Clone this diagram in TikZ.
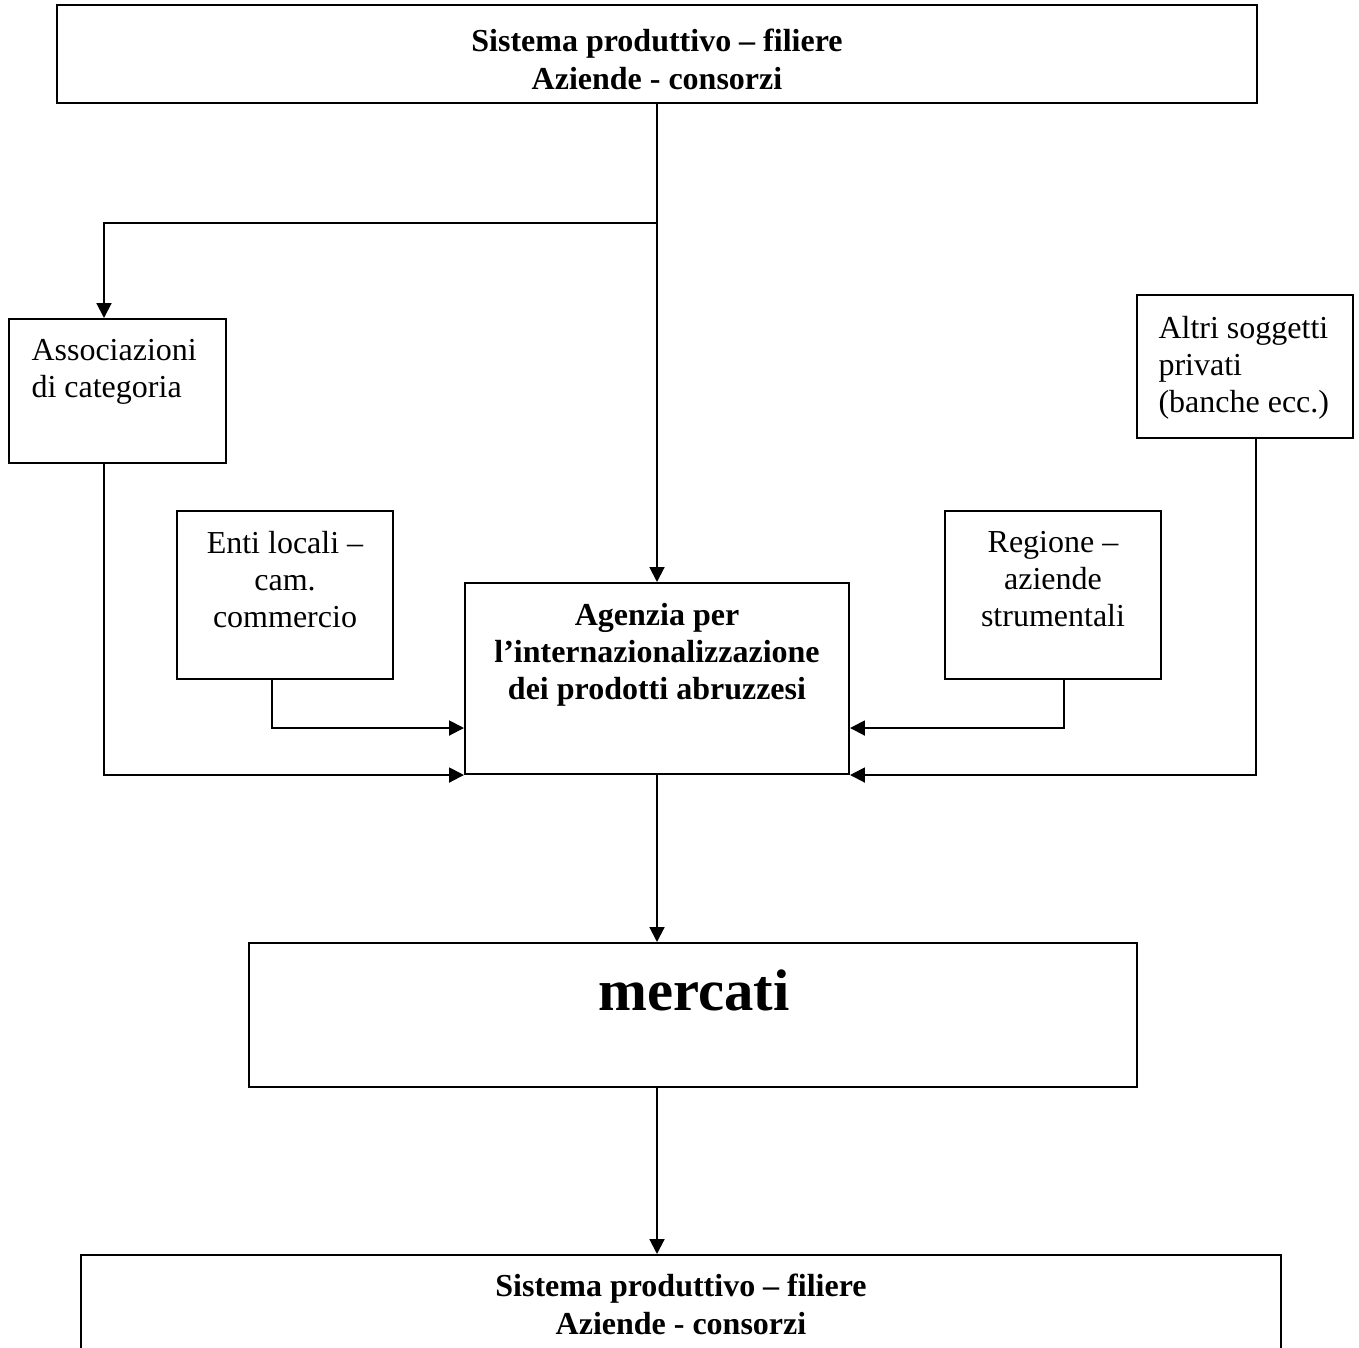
\documentclass[tikz,border=0pt]{standalone}
\usepackage{fontspec}
\setmainfont{Liberation Serif}
\usetikzlibrary{arrows.meta,fit,calc}
\begin{document}
\begin{tikzpicture}[x=0.375pt,y=-0.375pt,
  box/.style={draw,line width=0.75pt,inner sep=0pt},
  arr/.style={line width=0.75pt,-{Triangle[length=5.6pt,width=5.6pt]}},
  txt/.style={inner sep=0pt,font=\fontsize{12}{13.9}\selectfont},
  btxt/.style={inner sep=0pt,font=\fontsize{12}{14.5}\selectfont\bfseries}]
\useasboundingbox[fill=white] (0,0) rectangle (1359,1347);
% boxes
\node[box,fit={(57,5) (1257,103)}] (top) {};
\node[box,fit={(9,319) (226,463)}] (assoc) {};
\node[box,fit={(177,511) (393,679)}] (enti) {};
\node[box,fit={(465,583) (849,774)}] (agz) {};
\node[box,fit={(945,511) (1161,679)}] (reg) {};
\node[box,fit={(1137,295) (1353,438)}] (altri) {};
\node[box,fit={(249,943) (1137,1087)}] (merc) {};
\node[box,fit={(81,1255) (1281,1420)}] (bot) {};
% texts
\node[btxt,align=center,anchor=north] (toptxt) at (657,28) {Sistema produttivo – filiere\\Aziende - consorzi};
\node[txt,align=left,anchor=north west] (assoctxt) at (31,339) {Associazioni\\di categoria};
\node[txt,align=center,anchor=north] (entitxt) at (285,531) {Enti locali –\\cam.\\commercio};
\node[btxt,align=center,anchor=north,font=\fontsize{12}{13.9}\selectfont\bfseries] (agztxt) at (657,603) {Agenzia per\\l’internazionalizzazione\\dei prodotti abruzzesi};
\node[txt,align=center,anchor=north] (regtxt) at (1053,531) {Regione –\\aziende\\strumentali};
\node[txt,align=left,anchor=north west] (altritxt) at (1158,316) {Altri soggetti\\privati\\(banche ecc.)};
\node[inner sep=0pt,font=\fontsize{22}{26}\selectfont\bfseries,anchor=base] (merctxt) at (694,1010) {mercati};
\node[btxt,align=center,anchor=north] (bottxt) at (681,1273) {Sistema produttivo – filiere\\Aziende - consorzi};
% connectors
\draw[arr] (top.south) -- (agz.north);
\coordinate (br) at ($(top.south)+(0,119)$);
\draw[arr] (br) -| ($(assoc.north west)+(96,0)$);
\draw[arr] ($(assoc.south west)+(96,0)$) |- (agz.south west);
\draw[arr] ($(enti.south west)+(96,0)$) |- ($(agz.south west)+(0,-47)$);
\draw[arr] ($(reg.south west)+(120,0)$) |- ($(agz.south east)+(0,-47)$);
\draw[arr] ($(altri.south west)+(120,0)$) |- (agz.south east);
\draw[arr] (agz.south) -- (merc.north -| agz.south);
\draw[arr] (merc.south -| agz.south) -- (bot.north -| agz.south);
\end{tikzpicture}
\end{document}
